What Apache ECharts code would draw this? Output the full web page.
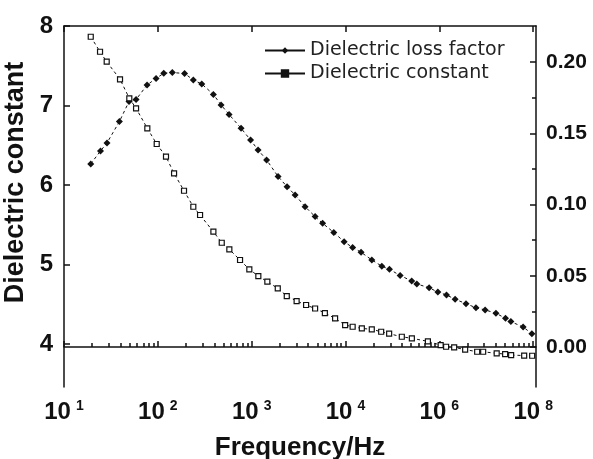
<!DOCTYPE html>
<html>
<head>
<meta charset="utf-8">
<script src="https://cdn.jsdelivr.net/npm/echarts@6/dist/echarts.min.js"></script>
<style>
  html, body { margin: 0; padding: 0; background: #fff; }
  #chart { width: 593px; height: 459px; }
</style>
</head>
<body>
<div id="chart"></div>
<script>
// exponent of frequency (log10 Hz) and values
const constFreqExp = [1.285, 1.384, 1.455, 1.597, 1.696, 1.768, 1.888, 1.988, 2.087, 2.173,
  2.279, 2.378, 2.450, 2.592, 2.681, 2.762, 2.876, 2.975, 3.071, 3.167,
  3.278, 3.374, 3.479, 3.580, 3.676, 3.780, 3.889, 3.996, 4.076, 4.174,
  4.280, 4.380, 4.465, 4.600, 4.707, 4.878, 5.014, 5.072, 5.158, 5.275,
  5.403, 5.467, 5.611, 5.701, 5.765, 5.904, 5.989];
const constValues = [7.865, 7.676, 7.551, 7.330, 7.091, 6.965, 6.713, 6.516, 6.356, 6.147,
  5.928, 5.727, 5.623, 5.413, 5.274, 5.191, 5.057, 4.940, 4.855, 4.784,
  4.701, 4.604, 4.541, 4.491, 4.447, 4.390, 4.323, 4.239, 4.218, 4.197,
  4.185, 4.155, 4.130, 4.092, 4.072, 4.034, 3.987, 3.966, 3.958, 3.931,
  3.903, 3.903, 3.883, 3.874, 3.862, 3.855, 3.853];

const lossFreqExp = [1.285, 1.389, 1.458, 1.590, 1.693, 1.768, 1.885, 1.981, 2.063, 2.154,
  2.285, 2.378, 2.468, 2.592, 2.674, 2.759, 2.887, 2.988, 3.068, 3.159,
  3.281, 3.377, 3.463, 3.569, 3.676, 3.756, 3.875, 3.985, 4.076, 4.166,
  4.280, 4.387, 4.468, 4.582, 4.705, 4.760, 4.891, 4.984, 5.076, 5.168,
  5.284, 5.390, 5.488, 5.603, 5.705, 5.762, 5.893, 5.986];
const lossValues = [0.1285, 0.1376, 0.1432, 0.1582, 0.1723, 0.1737, 0.1839, 0.1885, 0.1921, 0.1926,
  0.1920, 0.1874, 0.1846, 0.1773, 0.1699, 0.1632, 0.1535, 0.1453, 0.1383, 0.1313,
  0.1197, 0.1125, 0.1067, 0.0985, 0.0915, 0.0868, 0.0804, 0.0739, 0.0698, 0.0665,
  0.0611, 0.0567, 0.0545, 0.0502, 0.0463, 0.0442, 0.0416, 0.0385, 0.0365, 0.0335,
  0.0304, 0.0275, 0.0260, 0.0237, 0.0201, 0.0178, 0.0140, 0.0093];

const xTickValues = [10, 100, 1000, 10000, 100000, 1000000];
const xTickSup = ['1', '2', '3', '4', '6', '8'];
const leftTicks = [4, 5, 6, 7, 8];
const rightTicks = [0, 0.05, 0.10, 0.15, 0.20];
const rightMinorTicks = [0.025, 0.075, 0.125, 0.175];

const xMin = 10, xMax = Math.pow(10, 6.03);
const xMinorTicks = [];
for (let d = 1; d < 6; d++) {
  for (let k = 2; k <= 9; k++) xMinorTicks.push(k * Math.pow(10, d));
}

const constData = constFreqExp.map((e, i) => [Math.pow(10, e), constValues[i]]);
const lossData = lossFreqExp.map((e, i) => [Math.pow(10, e), lossValues[i]]);

const chart = echarts.init(document.getElementById('chart'));
const lineCol = '#111';
const boldFont = '"Liberation Sans", Arial, sans-serif';
const gridBox = { left: 64, right: 57, top: 26, bottom: 72, outerBoundsMode: 'none' };

chart.setOption({
  backgroundColor: '#fff',
  animation: false,
  // second grid on the same box only carries the minor ticks
  grid: [Object.assign({}, gridBox), Object.assign({}, gridBox)],
  legend: {
    orient: 'vertical',
    left: 259, top: 36,
    itemGap: 4,
    itemWidth: 40, itemHeight: 8,
    textStyle: { fontFamily: '"DejaVu Sans", sans-serif', fontSize: 19, color: '#222' },
    data: [
      { name: 'Dielectric loss factor', lineStyle: { type: 'solid' } },
      { name: 'Dielectric constant', lineStyle: { type: 'solid' }, itemStyle: { color: '#111' } }
    ]
  },
  xAxis: [
    {
      gridIndex: 0, type: 'log', logBase: 10, min: xMin, max: xMax, position: 'bottom',
      name: 'Frequency/Hz', nameLocation: 'middle', nameGap: 48,
      nameTextStyle: { fontFamily: boldFont, fontWeight: 'bold', fontSize: 26, color: lineCol },
      axisLine: { lineStyle: { color: lineCol, width: 1.5 } },
      axisTick: { show: true, inside: true, length: 6, customValues: xTickValues, lineStyle: { color: lineCol, width: 1.5 } },
      axisLabel: {
        customValues: xTickValues, margin: 12,
        formatter: function (v) {
          const i = xTickValues.findIndex(t => Math.abs(Math.log10(t) - Math.log10(v)) < 1e-6);
          return '{b|10}{s|' + (i >= 0 ? xTickSup[i] : '') + '}';
        },
        rich: {
          b: { fontFamily: boldFont, fontWeight: 'bold', fontSize: 24, color: lineCol, lineHeight: 26 },
          s: { fontFamily: boldFont, fontWeight: 'bold', fontSize: 14, color: lineCol, verticalAlign: 'top', padding: [0, 0, 0, 5] }
        }
      },
      splitLine: { show: false }
    },
    {
      gridIndex: 0, type: 'log', logBase: 10, min: xMin, max: xMax, position: 'top',
      axisLine: { lineStyle: { color: lineCol, width: 1.5 } },
      axisTick: { show: true, inside: true, length: 6, customValues: xTickValues, lineStyle: { color: lineCol, width: 1.5 } },
      axisLabel: { show: false },
      splitLine: { show: false }
    },
    {
      gridIndex: 1, type: 'log', logBase: 10, min: xMin, max: xMax, position: 'bottom',
      axisLine: { show: false },
      axisTick: { show: true, inside: true, length: 4, customValues: xMinorTicks, lineStyle: { color: lineCol, width: 1.5 } },
      axisLabel: { show: false },
      splitLine: { show: false }
    }
  ],
  yAxis: [
    {
      gridIndex: 0, type: 'value', position: 'left', min: 3.46, max: 8,
      name: 'Dielectric constant', nameLocation: 'middle', nameGap: 30,
      nameTextStyle: { fontFamily: boldFont, fontWeight: 'bold', fontSize: 27, color: lineCol, padding: [0, 0, 0, 48] },
      axisLine: { show: true, lineStyle: { color: lineCol, width: 1.5 } },
      axisTick: { show: true, inside: true, length: 6, customValues: leftTicks, lineStyle: { color: lineCol, width: 1.5 } },
      axisLabel: { customValues: leftTicks, margin: 11, fontFamily: boldFont, fontWeight: 'bold', fontSize: 24, color: lineCol },
      splitLine: { show: false }
    },
    {
      gridIndex: 0, type: 'value', position: 'right', min: -0.0281, max: 0.2253,
      axisLine: { show: true, lineStyle: { color: lineCol, width: 1.5 } },
      axisTick: { show: true, inside: true, length: 6, customValues: rightTicks, lineStyle: { color: lineCol, width: 1.5 } },
      axisLabel: {
        customValues: rightTicks, margin: 10, fontFamily: boldFont, fontWeight: 'bold', fontSize: 21, color: lineCol,
        formatter: v => v.toFixed(2)
      },
      splitLine: { show: false }
    },
    {
      gridIndex: 1, type: 'value', position: 'right', min: -0.0281, max: 0.2253,
      axisLine: { show: false },
      axisTick: { show: true, inside: true, length: 4, customValues: rightMinorTicks, lineStyle: { color: lineCol, width: 1.5 } },
      axisLabel: { show: false },
      splitLine: { show: false }
    }
  ],
  series: [
    {
      name: 'Dielectric loss factor', type: 'line', xAxisIndex: 0, yAxisIndex: 1,
      data: lossData,
      symbol: 'diamond', symbolSize: 7,
      itemStyle: { color: lineCol },
      lineStyle: { color: lineCol, width: 1, type: [3, 3] }
    },
    {
      name: 'Dielectric constant', type: 'line', xAxisIndex: 0, yAxisIndex: 0,
      data: constData,
      symbol: 'rect', symbolSize: 5,
      itemStyle: { color: '#fff', borderColor: lineCol, borderWidth: 1.2 },
      lineStyle: { color: lineCol, width: 1, type: [3, 3] }
    },
    {
      // empty series so the minor-tick grid is laid out
      type: 'line', xAxisIndex: 2, yAxisIndex: 2, data: [], silent: true
    }
  ]
});
</script>
</body>
</html>
